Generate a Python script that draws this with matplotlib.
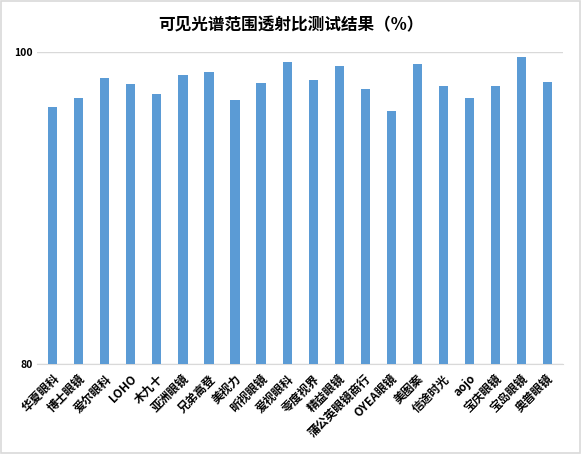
import matplotlib
matplotlib.use("Agg")
import matplotlib.pyplot as plt
from matplotlib.patches import Rectangle

plt.rcParams['font.family'] = ['Noto Sans CJK SC', 'DejaVu Sans']

categories = ["华夏眼科", "博士眼镜", "爱尔眼科", "LOHO", "木九十", "亚洲眼镜", "兄弟高登",
              "美视力", "昕视眼镜", "爱视眼科", "零度视界", "精益眼镜", "蒲公英眼镜商行",
              "OYEA眼镜", "美图案", "信途时光", "aojo", "宝庆眼镜", "宝岛眼镜", "奥普眼镜"]
values = [96.47, 97.05, 98.33, 97.95, 97.31, 98.53, 98.72, 96.92, 98.01, 99.36,
          98.21, 99.10, 97.63, 96.22, 99.23, 97.82, 97.05, 97.82, 99.68, 98.08]
yticks = [80, 100]

fig = plt.figure(figsize=(5.81, 4.54), dpi=100)
fig.patches.append(Rectangle((0.002, 0.002), 0.996, 0.996, transform=fig.transFigure,
                             fill=False, edgecolor='#d9d9d9', linewidth=1.2))
ax = fig.add_axes([0.064, 0.198, 0.905, 0.687])
x = range(len(categories))
ax.bar(x, values, width=0.35, color='#5b9bd5', zorder=3)
ax.set_ylim(80, 100)
ax.set_xlim(-0.6, len(categories) - 0.4)
ax.set_yticks(yticks)
ax.set_yticklabels([str(v) for v in yticks], fontsize=7.5, fontweight='bold')
ax.yaxis.grid(True, color='#d9d9d9', linewidth=1, zorder=0)
ax.set_xticks(list(x))
ax.set_xticklabels(categories, rotation=45, ha='right', rotation_mode='anchor',
                   fontsize=8.5, fontweight='bold')
for s in ['top', 'right', 'left']:
    ax.spines[s].set_visible(False)
ax.spines['bottom'].set_color('#d9d9d9')
ax.tick_params(axis='x', length=0, pad=6)
ax.tick_params(axis='y', length=0, pad=3)
fig.text(0.5, 0.945, "可见光谱范围透射比测试结果（%）", ha='center', va='center',
         fontsize=12, fontweight='bold')
fig.savefig("out.png", dpi=100)
